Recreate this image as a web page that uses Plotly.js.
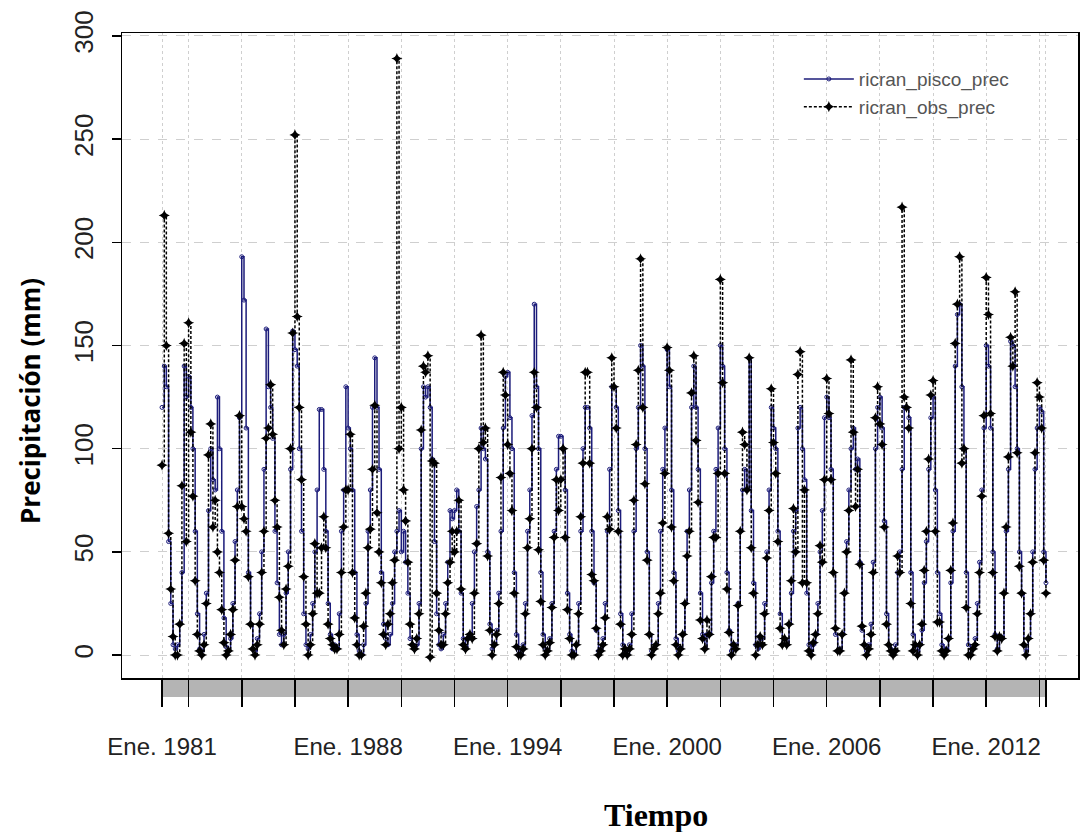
<!DOCTYPE html>
<html>
<head>
<meta charset="utf-8">
<script src="https://cdn.plot.ly/plotly-3.0.1.min.js"></script>
<style>html,body{margin:0;padding:0;background:#fff;}#chart{width:1081px;height:832px;}</style>
</head>
<body>
<div id="chart"></div>
<script>
// Monthly series start (Jan 1981), one row per year Jan..Dec
const startYear = 1981;

const obsPrec = [
  92,213,150,59,32,9,0,0,15,82,151,55,        // 1981
  161,108,77,36,10,2,0,5,25,97,112,62,        // 1982
  75,50,40,22,6,0,2,10,22,46,72,116,          // 1983
  72,66,60,38,15,3,0,5,15,40,60,105,          // 1984
  110,131,107,75,62,28,12,5,32,43,100,156,    // 1985
  252,164,120,85,38,15,0,5,20,54,30,30,       // 1986
  52,67,52,15,8,5,3,3,10,40,62,80,            // 1987
  80,107,40,18,5,0,0,14,30,52,61,90,          // 1988
  121,69,50,35,10,5,15,20,35,46,289,100,      // 1989
  120,80,65,45,15,5,3,8,20,109,140,137,       // 1990
  145,-1,94,93,30,12,5,5,20,35,45,60,         // 1991
  50,60,75,32,5,3,8,10,8,30,54,100,           // 1992
  155,103,110,48,12,0,5,10,25,86,137,126,     // 1993
  102,88,70,30,4,0,0,3,20,52,66,100,          // 1994
  137,120,51,26,5,0,2,6,23,57,85,70,          // 1995
  85,100,57,22,8,0,0,5,20,67,93,137,          // 1996
  137,93,39,36,13,0,2,5,18,67,61,144,         // 1997
  130,110,60,15,0,3,0,3,10,75,102,138,        // 1998
  192,120,83,46,10,0,3,5,20,30,64,88,         // 1999
  149,138,62,36,5,0,3,10,25,48,60,127,        // 2000
  145,104,74,17,8,3,17,10,38,57,57,88,        // 2001
  182,132,88,32,11,0,5,3,24,60,108,102,       // 2002
  80,144,52,30,0,5,9,5,20,47,70,129,          // 2003
  103,88,55,13,5,8,5,15,36,71,50,136,         // 2004
  147,35,80,35,2,0,6,10,20,53,45,85,          // 2005
  134,117,85,40,13,2,2,10,30,50,70,143,       // 2006
  108,72,90,44,14,5,0,3,10,40,115,130,        // 2007
  112,102,62,15,5,2,0,2,48,40,217,125,        // 2008
  120,110,25,2,5,0,5,15,41,60,95,126,         // 2009
  133,60,16,16,2,0,2,8,41,64,151,170,         // 2010
  193,93,100,23,0,0,3,5,20,40,77,116,         // 2011
  183,165,117,40,9,2,9,8,30,62,96,154,        // 2012
  140,176,98,43,30,5,0,8,20,45,98,132,        // 2013
  125,110,46,30                               // 2014
];

const piscoPrec = [
  120,140,130,55,25,5,3,5,15,40,140,125,      // 1981
  135,120,100,60,20,3,2,10,30,70,100,85,      // 1982
  80,125,100,60,18,4,2,8,25,55,80,115,        // 1983
  193,172,110,40,15,3,2,8,20,50,90,158,       // 1984
  130,120,105,60,35,10,5,10,30,50,90,157,     // 1985
  148,140,100,60,20,5,3,10,25,50,80,119,      // 1986
  119,90,60,25,10,3,5,3,20,60,80,130,         // 1987
  110,100,80,40,10,2,0,5,25,60,80,120,        // 1988
  144,120,90,40,15,8,5,10,25,50,60,70,        // 1989
  50,60,45,30,8,5,3,5,25,100,130,125,         // 1990
  130,120,95,55,20,5,3,10,25,45,70,66,        // 1991
  70,80,60,30,8,3,8,10,25,50,72,80,           // 1992
  110,100,95,50,15,3,5,12,30,60,110,135,      // 1993
  137,115,100,40,10,2,0,5,25,60,80,116,       // 1994
  170,130,100,40,10,3,2,8,25,60,90,106,       // 1995
  106,100,80,30,10,2,0,5,25,60,100,120,       // 1996
  120,110,60,35,12,2,3,8,25,60,90,130,        // 1997
  130,120,70,20,5,2,0,5,20,60,100,120,        // 1998
  150,140,100,50,10,2,3,5,25,60,90,110,       // 1999
  148,130,80,40,8,2,3,10,25,60,80,120,        // 2000
  140,120,90,30,10,3,10,10,35,60,90,110,      // 2001
  150,140,100,40,12,2,5,5,25,60,80,90,        // 2002
  80,144,70,35,5,3,8,8,25,50,80,120,          // 2003
  110,100,60,20,5,8,5,15,30,60,70,110,        // 2004
  120,100,85,30,5,2,5,10,25,50,70,115,        // 2005
  125,115,90,40,10,2,3,10,30,55,80,100,       // 2006
  110,90,95,45,12,5,2,5,15,45,100,120,        // 2007
  125,110,65,20,5,3,2,5,40,50,90,120,         // 2008
  120,115,40,10,5,2,5,12,35,55,90,115,        // 2009
  125,80,40,20,5,2,3,8,35,60,140,165,         // 2010
  170,130,100,40,5,2,3,8,25,45,80,110,        // 2011
  150,140,110,50,10,3,8,8,30,60,90,152,       // 2012
  150,130,100,50,30,5,2,8,20,50,90,110,       // 2013
  120,118,50,35                               // 2014
];

const majorTickDates = ['1981-01-01','1982-01-01','1984-01-01','1986-01-01','1988-01-01','1990-01-01',
  '1992-01-01','1994-01-01','1996-01-01','1998-01-01','2000-01-01','2002-01-01','2004-01-01',
  '2006-01-01','2008-01-01','2010-01-01','2012-01-01','2014-01-01','2014-04-01'];
const majorTickText = ['Ene. 1981',' ',' ',' ','Ene. 1988',' ',' ','Ene. 1994',' ',' ','Ene. 2000',' ',' ',
  'Ene. 2006',' ',' ','Ene. 2012',' ',' '];
const yTicks = [0,50,100,150,200,250,300];

// month dates
const dates = [];
for (let i = 0; i < obsPrec.length; i++) {
  const y = startYear + Math.floor(i / 12);
  const m = (i % 12) + 1;
  dates.push(y + '-' + (m < 10 ? '0' + m : m) + '-01');
}

const traces = [
  {
    x: dates, y: piscoPrec, name: 'ricran_pisco_prec', type: 'scatter', mode: 'lines+markers',
    line: {shape: 'hv', color: '#1c1c7a', width: 1.5},
    marker: {symbol: 'circle-open', size: 4, color: '#1c1c7a', line: {width: 1}}
  },
  {
    x: dates, y: obsPrec, name: 'ricran_obs_prec', type: 'scatter', mode: 'lines+markers',
    line: {shape: 'hv', color: '#000000', width: 1.5, dash: '3px,2px'},
    marker: {symbol: 'star-diamond', size: 8, color: '#000000'}
  }
];

const sansFam = 'Liberation Sans, Arial, sans-serif';

const layout = {
  width: 1081, height: 832,
  margin: {l: 122, r: 3, t: 33, b: 154, autoexpand: false},
  paper_bgcolor: '#fff', plot_bgcolor: '#fff',
  showlegend: true,
  legend: {x: 0.708, y: 0.958, xanchor: 'left', yanchor: 'top', bgcolor: 'rgba(0,0,0,0)',
    itemwidth: 50,
    font: {family: sansFam, size: 19, color: '#555'}, tracegroupgap: 0},
  xaxis: {
    type: 'date', range: ['1979-07-01', '2015-06-15'],
    tickmode: 'array', tickvals: majorTickDates, ticktext: majorTickText,
    tickangle: 0,
    ticks: 'outside', ticklen: 27, tickwidth: 1.5, tickcolor: '#000',
    ticklabelstandoff: 20,
    tickfont: {family: sansFam, size: 24, color: '#222'},
    showgrid: true, gridcolor: '#cfcfcf', griddash: 'dot', gridwidth: 1,
    showline: true, linecolor: '#000', linewidth: 1.5, mirror: true, zeroline: false,
    minor: {tickmode: 'array', tickvals: dates, ticks: 'outside', ticklen: 17, tickwidth: 2.3,
      tickcolor: '#b4b4b4', showgrid: false}
  },
  yaxis: {
    range: [-11.1, 301.4],
    tickmode: 'array', tickvals: yTicks, ticktext: yTicks.map(String),
    tickangle: -90,
    ticks: 'outside', ticklen: 9, tickwidth: 1.5, tickcolor: '#000',
    ticklabelstandoff: 8,
    tickfont: {family: sansFam, size: 26, color: '#222'},
    showgrid: true, gridcolor: '#cfcfcf', griddash: 'dash', gridwidth: 1,
    showline: true, linecolor: '#000', linewidth: 1.5, mirror: true, zeroline: false
  },
  annotations: [
    {text: 'Tiempo', xref: 'paper', yref: 'paper', x: 0.5586, y: -0.2124,
      xanchor: 'center', yanchor: 'middle', showarrow: false,
      font: {family: 'Liberation Serif, Times New Roman, serif', size: 32, color: '#000', weight: 'bold'}},
    {text: 'Precipitación (mm)', xref: 'paper', yref: 'paper', x: -0.0962, y: 0.4295,
      xanchor: 'center', yanchor: 'middle', textangle: -90, showarrow: false,
      font: {family: 'Open Sans, Liberation Sans, sans-serif', size: 26, color: '#000', weight: 'bold'}}
  ]
};

Plotly.newPlot('chart', traces, layout, {staticPlot: true, displayModeBar: false});
</script>
</body>
</html>
